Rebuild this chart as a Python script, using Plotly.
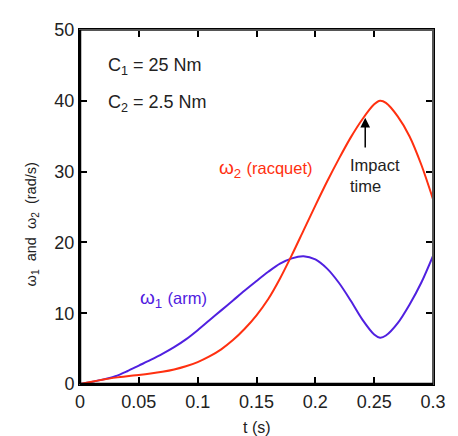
import plotly.graph_objects as go

t1 = [0.00, 0.01, 0.02, 0.03, 0.04, 0.05, 0.06, 0.07, 0.08, 0.09, 0.10,
      0.11, 0.12, 0.13, 0.14, 0.15, 0.16, 0.17, 0.18, 0.19, 0.20,
      0.21, 0.22, 0.23, 0.24, 0.25, 0.255, 0.26, 0.27, 0.28, 0.29, 0.30]
omega1 = [0.0, 0.3, 0.65, 1.1, 1.8, 2.6, 3.4, 4.25, 5.2, 6.3, 7.6,
          9.0, 10.4, 11.8, 13.2, 14.55, 15.85, 17.0, 17.75, 18.05, 17.6,
          16.3, 14.3, 11.8, 9.1, 7.0, 6.55, 6.85, 8.6, 11.2, 14.3, 18.1]

t2 = [0.00, 0.01, 0.02, 0.03, 0.04, 0.05, 0.06, 0.07, 0.08, 0.09, 0.10,
      0.11, 0.12, 0.13, 0.14, 0.15, 0.16, 0.17, 0.18, 0.19, 0.20,
      0.21, 0.22, 0.23, 0.24, 0.25, 0.255, 0.26, 0.27, 0.28, 0.29, 0.30]
omega2 = [0.0, 0.32, 0.63, 0.9, 1.1, 1.27, 1.47, 1.72, 2.05, 2.5, 3.1,
          3.9, 4.9, 6.2, 7.8, 9.7, 12.0, 14.9, 18.2, 21.7, 25.2,
          28.6, 31.8, 34.8, 37.4, 39.5, 40.0, 39.7, 37.8, 35.0, 31.0, 26.1]

x_ticks = [0, 0.05, 0.1, 0.15, 0.2, 0.25, 0.3]
x_tick_labels = ["0", "0.05", "0.1", "0.15", "0.2", "0.25", "0.3"]
y_ticks = [0, 10, 20, 30, 40, 50]

RED = "#ff3010"
BLUE = "#5020e0"
TXT = "#222222"
FONT = "Liberation Sans, Arial, sans-serif"

fig = go.Figure()
fig.add_trace(go.Scatter(x=t1, y=omega1, mode="lines",
                         line=dict(color=BLUE, width=2, shape="spline", smoothing=0.9), showlegend=False))
fig.add_trace(go.Scatter(x=t2, y=omega2, mode="lines",
                         line=dict(color=RED, width=2, shape="spline", smoothing=0.9), showlegend=False))

axis_common = dict(ticks="inside", ticklen=7, tickwidth=1.5, tickcolor="black",
                   showgrid=False, zeroline=False, showline=True, linecolor="black",
                   linewidth=2, mirror="ticks", tickfont=dict(size=18, color=TXT, family=FONT))

fig.update_xaxes(range=[0, 0.3], tickvals=x_ticks, ticktext=x_tick_labels, **axis_common)
fig.update_yaxes(range=[0, 50], tickvals=y_ticks, **axis_common)

fig.add_shape(type="rect", xref="paper", yref="paper", x0=0, y0=0, x1=1, y1=1,
              line=dict(color="#555555", width=2), layer="above")
fig.add_shape(type="line", xref="paper", yref="paper", x0=0, y0=0, x1=0, y1=1,
              line=dict(color="black", width=2.5), layer="above")
fig.add_shape(type="line", xref="paper", yref="paper", x0=0, y0=0, x1=1, y1=0,
              line=dict(color="black", width=2.5), layer="above")

ann = [
    dict(x=0.0225, y=44.8, text="C<sub>1</sub> = 25 Nm", xanchor="left", font=dict(size=18)),
    dict(x=0.0225, y=39.6, text="C<sub>2</sub> = 2.5 Nm", xanchor="left", font=dict(size=18)),
    dict(x=0.1165, y=30.4, text="ω<sub>2</sub> <span style='font-size:16.5px'>(racquet)</span>",
         xanchor="left", font=dict(size=19, color=RED)),
    dict(x=0.0495, y=12.0, text="ω<sub>1</sub> <span style='font-size:16.5px'>(arm)</span>",
         xanchor="left", font=dict(size=19, color=BLUE)),
    dict(x=0.228, y=29.4, text="Impact<br>time", xanchor="left", align="left", font=dict(size=16.5)),
]
for a in ann:
    f = dict(family=FONT, color=TXT)
    f.update(a.pop("font"))
    fig.add_annotation(xref="x", yref="y", showarrow=False, font=f, **a)

fig.add_annotation(x=0.2424, y=37.6, ax=0.2424, ay=33.2, xref="x", yref="y", axref="x", ayref="y",
                   showarrow=True, arrowhead=2, arrowsize=1.3, arrowwidth=1.5, arrowcolor="black", text="")

fig.add_annotation(xref="paper", yref="paper", x=0.5, y=-0.124, text="t (s)", showarrow=False,
                   yanchor="middle", font=dict(size=16, color=TXT, family=FONT))
fig.add_annotation(xref="paper", yref="y", x=-0.168, y=22.5,
                   text="ω<sub>1</sub>&nbsp;&nbsp;and&nbsp;&nbsp;ω<sub>2</sub>&nbsp;&nbsp;(rad/s)",
                   textangle=-90, showarrow=False, font=dict(size=14.5, color=TXT, family=FONT))

fig.update_layout(width=450, height=428, margin=dict(l=72, r=14, t=14, b=52),
                  plot_bgcolor="white", paper_bgcolor="white", font=dict(family=FONT, color=TXT))

fig.write_html("out.html")
